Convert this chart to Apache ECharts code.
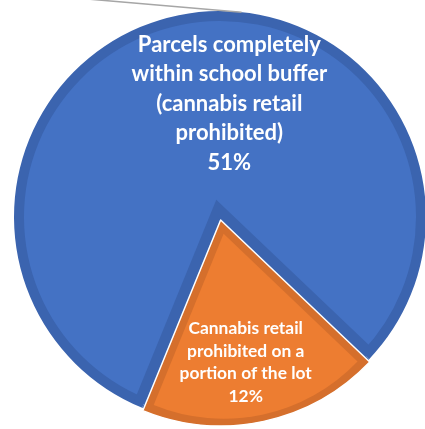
<!DOCTYPE html>
<html>
<head>
<meta charset="utf-8">
<style>
  html, body { margin: 0; padding: 0; background: #ffffff; }
  #chart { width: 425px; height: 429px; }
</style>
<script src="https://cdn.jsdelivr.net/npm/echarts@6/dist/echarts.min.js"></script>
</head>
<body>
<div id="chart"></div>
<script>
// Share of parcels by cannabis retail restriction
const categories = [
  'Parcels completely\nwithin school buffer\n(cannabis retail\nprohibited)',
  'Cannabis retail\nprohibited on a\nportion of the lot'
];
const shares = [51, 12];

// Colours: slice fill and the darker rim drawn inside each slice
const fillColors = ['#4472C4', '#ED7D31'];
const rimColors = ['#3B64AF', '#D56F2C'];

// Pie geometry
const CX = 220, CY = 217;
const R = 206;          // outer radius
const RIM = 10;         // rim width of the large slice
const RIM_SMALL = 8;    // rim width of the small slice
const EXPLODE = 3;      // small slice pulled out from the centre
const START = -112.2;   // where the first slice begins (90 = twelve o'clock)

const total = shares.reduce((a, b) => a + b, 0);
const halfSmall = (shares[1] / total) * Math.PI; // half the angle of the small slice
const sinHalf = Math.sin(halfSmall);

function layer(radius, colors, offset, opts) {
  opts = opts || {};
  return Object.assign({
    type: 'pie',
    center: [CX, CY],
    radius: radius,
    startAngle: START,
    clockwise: true,
    silent: true,
    animation: false,
    avoidLabelOverlap: false,
    selectedMode: 'multiple',
    selectedOffset: offset,
    label: { show: false },
    labelLine: { show: false },
    data: shares.map((v, i) => ({
      name: categories[i],
      value: v,
      selected: offset !== 0 && i === 1,
      itemStyle: Object.assign({ color: colors[i], borderWidth: 0 },
        (opts.styles && opts.styles[i]) || {})
    }))
  }, opts.extra || {});
}

const series = [
  // dark disc, then the lighter body of the large slice inside its rim
  layer(R, [rimColors[0], rimColors[0]], 0),
  layer(R - RIM, [fillColors[0], fillColors[0]], 0),
  // rim of the large slice along the cut-out for the small slice
  layer(R + 11, ['transparent', rimColors[0]], -RIM / sinHalf),
  // small slice: rim, white edge, lighter body
  layer(R, ['transparent', rimColors[1]], EXPLODE, {
    styles: [null, { borderColor: '#ffffff', borderWidth: 1.5 }]
  }),
  layer(R - 21, ['transparent', fillColors[1]], EXPLODE + RIM_SMALL / sinHalf),
  // data labels
  {
    type: 'pie',
    center: [CX, CY],
    radius: R - 5,
    startAngle: START,
    clockwise: true,
    silent: true,
    animation: false,
    avoidLabelOverlap: false,
    z: 5,
    labelLine: { show: false },
    label: {
      show: true,
      position: 'inside',
      color: '#ffffff',
      fontFamily: 'Lato',
      fontWeight: 'bold',
      formatter: p => p.name + '\n' + p.value + '%'
    },
    data: shares.map((v, i) => ({
      name: categories[i],
      value: v,
      itemStyle: { color: 'transparent' },
      label: i === 0
        ? { fontSize: 22, lineHeight: 29.5, offset: [31, -12] }
        : { fontSize: 17.4, lineHeight: 22.5, offset: [4, 44] }
    }))
  }
];

// leader line running off the top-left edge, meeting the rim near twelve o'clock
const leadAngle = 6 * Math.PI / 180;
const leadEnd = [CX + R * Math.sin(leadAngle), CY - R * Math.cos(leadAngle)];
const leadSlope = 0.085;
const leadStart = [leadEnd[0] - 300, leadEnd[1] - 300 * leadSlope];

const chart = echarts.init(document.getElementById('chart'), null, { renderer: 'canvas' });
chart.setOption({
  backgroundColor: '#ffffff',
  animation: false,
  series: series,
  graphic: [{
    type: 'polyline',
    z: 10,
    silent: true,
    shape: { points: [leadStart, leadEnd] },
    style: { stroke: '#A6A6A6', lineWidth: 1.5, fill: null }
  }]
});
</script>
</body>
</html>
